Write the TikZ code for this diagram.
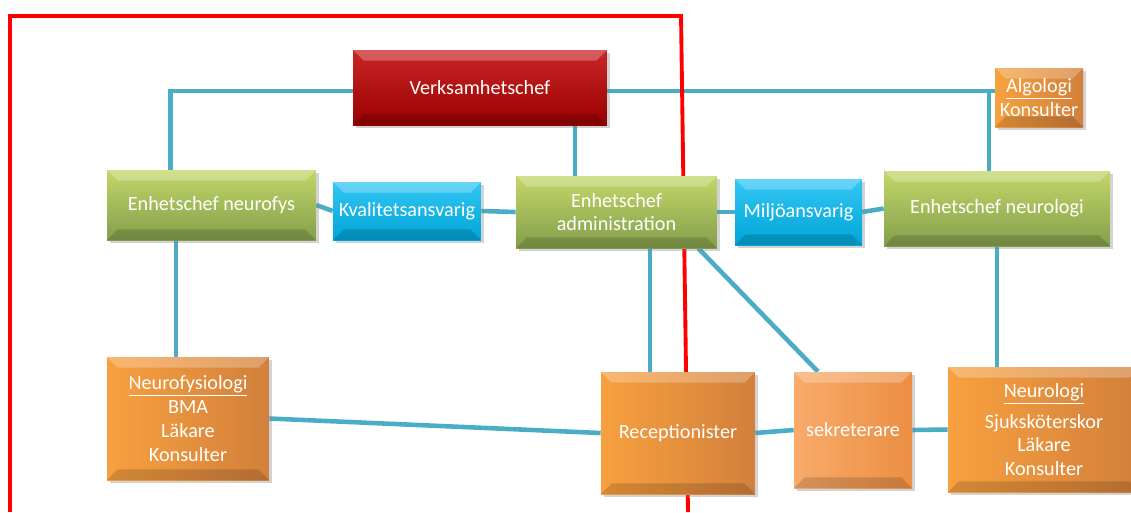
\documentclass[tikz,border=0pt]{standalone}
\usepackage{fontspec}
\setmainfont{Carlito}
\usetikzlibrary{shadows, backgrounds}

\definecolor{linkblue}{HTML}{4BACC6}
\definecolor{chefred}{HTML}{C00000}
\definecolor{chefgreen}{HTML}{9BBB59}
\definecolor{roleblue}{HTML}{00B8F0}
\definecolor{staffor}{HTML}{F79646}

\begin{document}
\begin{tikzpicture}[
            x = 0.02cm, y = -0.02cm, % one unit = one pixel of the chart
            every node/.style = {font=\fontsize{11.5}{13.5}\selectfont},
            link/.style = {draw=linkblue, line width=2.6pt}, % connector style
            redline/.style = {draw=red, line width=2.2pt}
        ]

        \tikzstyle{box}=[
            rectangle,
            text = white,
            align = center,
            inner sep = 2pt,
            drop shadow = {opacity=0.35, shadow xshift=1.5pt, shadow yshift=-1.5pt},
            path picture = {
                \fill[white, opacity=0.25] (path picture bounding box.north west)
                    -- (path picture bounding box.north east)
                    -- ([xshift=-6pt, yshift=-6pt]path picture bounding box.north east)
                    -- ([xshift=6pt, yshift=-6pt]path picture bounding box.north west) -- cycle;
                \fill[black, opacity=0.15] (path picture bounding box.south west)
                    -- (path picture bounding box.south east)
                    -- ([xshift=-6pt, yshift=6pt]path picture bounding box.south east)
                    -- ([xshift=6pt, yshift=6pt]path picture bounding box.south west) -- cycle;
            }
        ]
        \tikzstyle{redbox}=[box, top color=chefred!85!white, bottom color=chefred!80!black]
        \tikzstyle{greenbox}=[box, top color=chefgreen!75!yellow!80!white, bottom color=chefgreen!85!black]
        \tikzstyle{bluebox}=[box, top color=roleblue!80!white, bottom color=roleblue!90!black]
        \tikzstyle{orangebox}=[box, left color=staffor!90!yellow, right color=staffor!85!black]

        \useasboundingbox (0,0) rectangle (1131,512);

        \node[redbox, minimum width=5.08cm, minimum height=1.5cm] (vc) at (480,87.5) {Verksamhetschef};
        \node[orangebox, minimum width=1.76cm, minimum height=1.18cm, inner sep=1pt] (alg) at (1039,97.5) {\underline{Algologi}\\Konsulter};

        \node[greenbox, minimum width=4.18cm, minimum height=1.4cm] (nf) at (211.5,205) {Enhetschef neurofys};
        \node[bluebox, minimum width=2.96cm, minimum height=1.16cm] (kv) at (407,211) {Kvalitetsansvarig};
        \node[greenbox, minimum width=4.02cm, minimum height=1.44cm] (adm) at (616.5,212) {Enhetschef\\administration};
        \node[bluebox, minimum width=2.54cm, minimum height=1.32cm] (mil) at (798.5,212) {Miljöansvarig};
        \node[greenbox, minimum width=4.52cm, minimum height=1.5cm] (nl) at (997,208.5) {Enhetschef neurologi};

        \node[orangebox, minimum width=3.24cm, minimum height=2.46cm] (nfy) at (188,418.5) {\underline{Neurofysiologi}\\BMA\\Läkare\\Konsulter};
        \node[orangebox, minimum width=3.08cm, minimum height=2.44cm] (rec) at (678,433) {Receptionister};
        \node[box, left color=staffor!80!white, right color=staffor!95!black, minimum width=2.36cm, minimum height=2.32cm] (sek) at (853,430) {sekreterare};
        \node[orangebox, minimum width=3.84cm, minimum height=2.5cm] (neu) at (1044,429.5) {\underline{Neurologi}\\[4pt]Sjuksköterskor\\Läkare\\Konsulter};

        \begin{scope}[on background layer]
        \draw[link] ([yshift=-0.07cm]vc.west) -| ([xshift=-0.82cm]nf.north);
        \draw[link] ([xshift=-0.16cm]nl.north) |- ([yshift=-0.07cm]vc.east);
        \draw[link] ([yshift=-0.07cm]vc.east) -- ([yshift=-0.07cm]vc.east -| alg.west);
        \draw[link] ([xshift=1.9cm]vc.south) -- ([xshift=1.9cm]vc.south |- adm.north);

        \draw[link] (nf.east) -- (kv.west);
        \draw[link] (kv.east) -- (adm.west);
        \draw[link] (adm.east) -- (mil.west);
        \draw[link] (mil.east) -- (nl.west);

        \draw[link] ([xshift=-0.71cm]nf.south) -- ([xshift=-0.71cm]nf.south |- nfy.north);
        \draw[link] ([xshift=0.67cm]adm.south) -- ([xshift=0.67cm]adm.south |- rec.north);
        \draw[link] ([xshift=-0.38cm]adm.south east) -- ([xshift=-0.7cm]sek.north);
        \draw[link] (nl.south) -- (nl.south |- neu.north);

        \draw[link] (nfy.east) -- (rec.west);
        \draw[link] (rec.east) -- (sek.west);
        \draw[link] (sek.east) -- (neu.west);

        % the red frame, behind the boxes
        \draw[redline] (10,512) -- (10,16) -- (681,16);
        \draw[redline] (681,14) -- (688,512);
        \end{scope}
    \end{tikzpicture}
\end{document}
